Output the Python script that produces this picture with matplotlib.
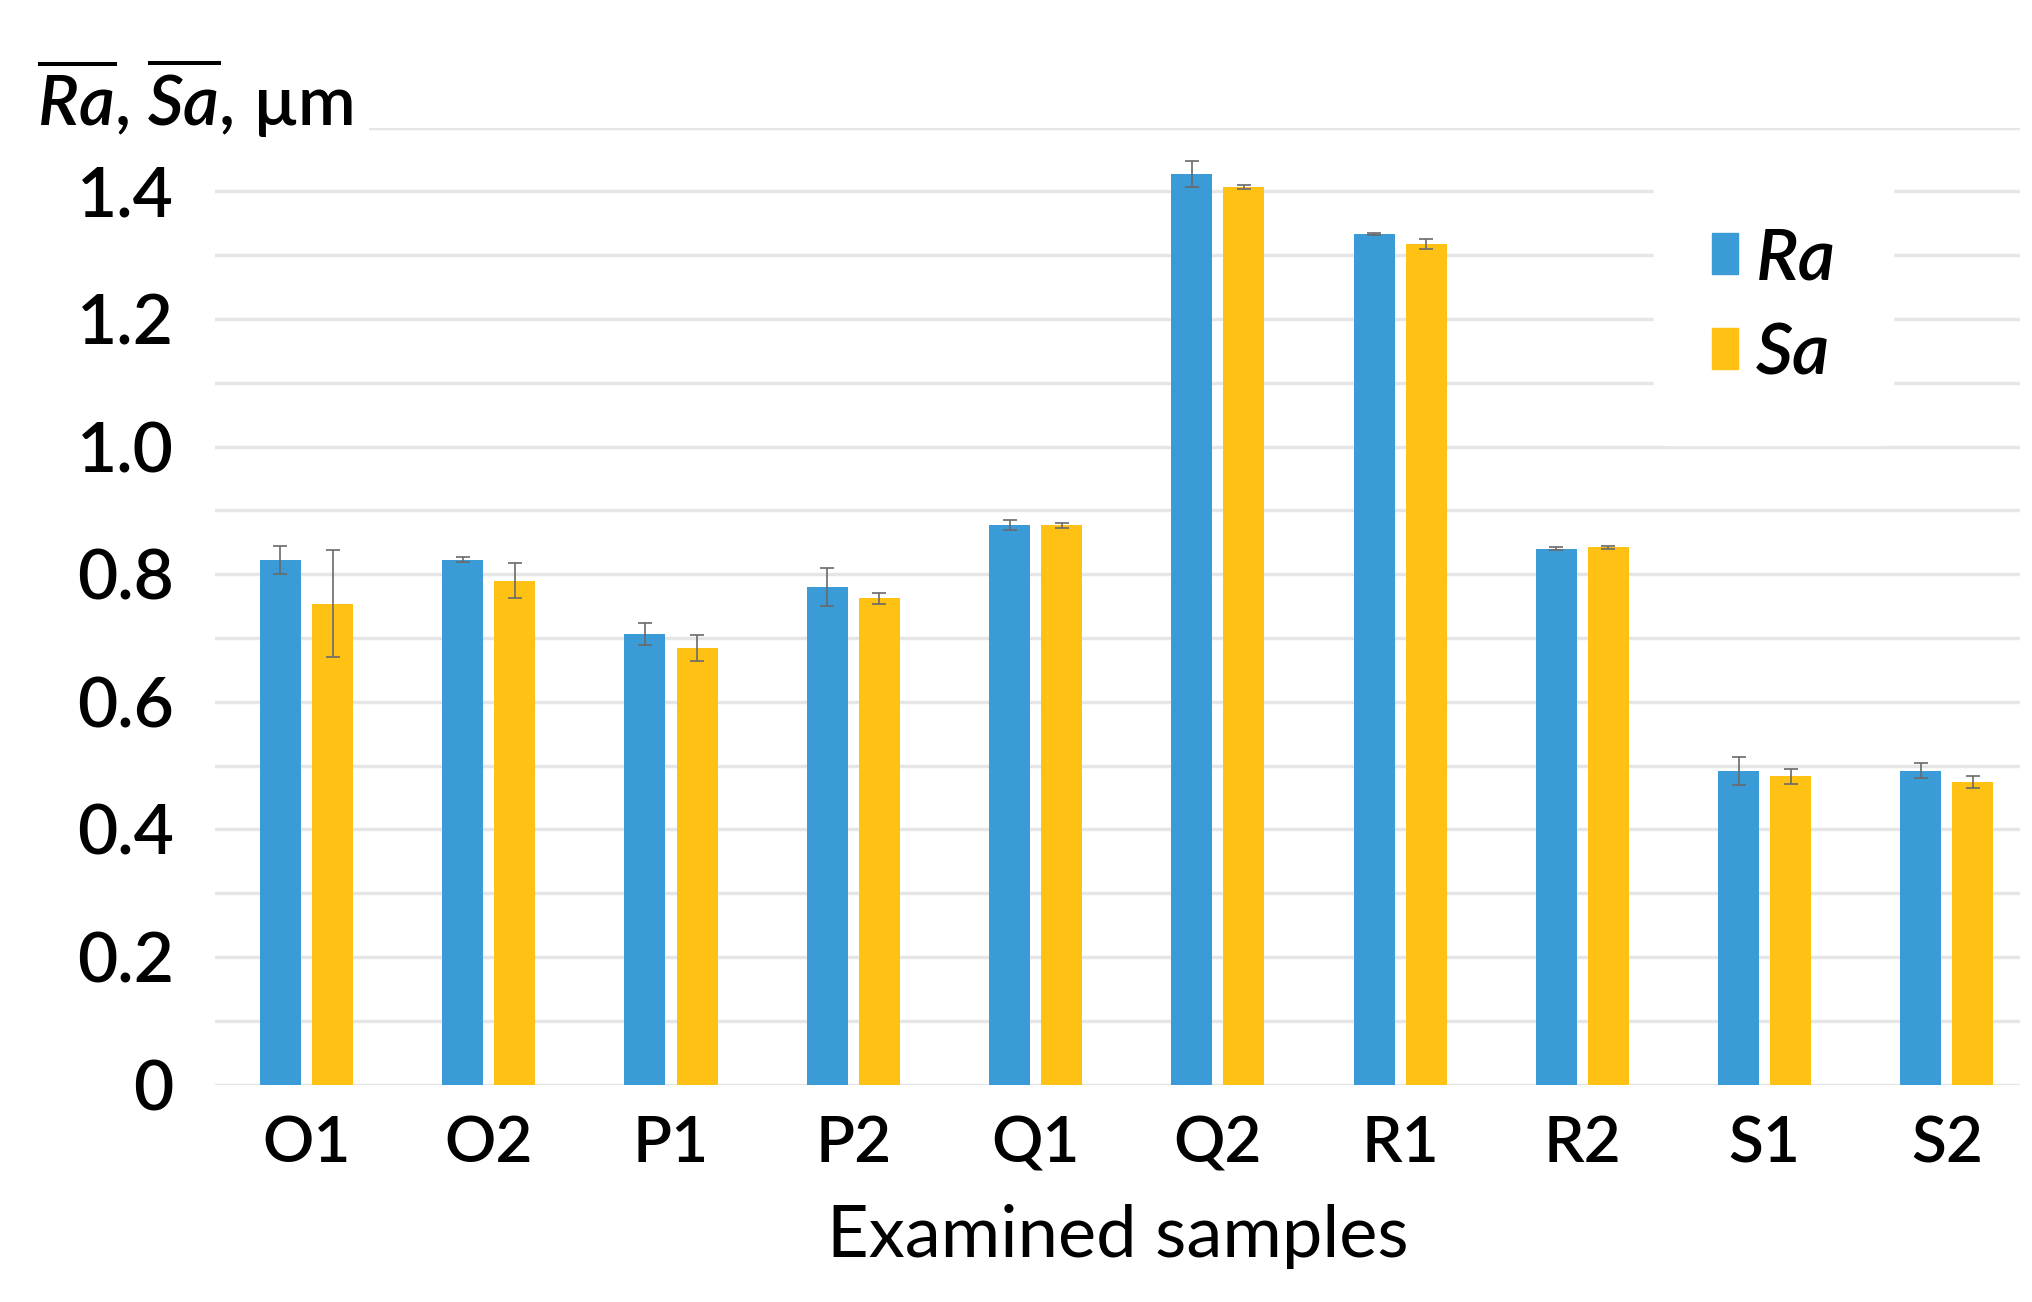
import numpy as np
import matplotlib.pyplot as plt
from matplotlib.patches import Patch

plt.rcParams['font.family'] = ['Lato', 'DejaVu Sans']
plt.rcParams['font.weight'] = 'semibold'
plt.rcParams['mathtext.fontset'] = 'custom'
plt.rcParams['mathtext.it'] = 'Lato:italic:semibold'
plt.rcParams['mathtext.rm'] = 'Lato:semibold'

samples = ['O1', 'O2', 'P1', 'P2', 'Q1', 'Q2', 'R1', 'R2', 'S1', 'S2']
ra_mean = [0.822, 0.823, 0.706, 0.780, 0.877, 1.427, 1.333, 0.840, 0.492, 0.492]
sa_mean = [0.754, 0.790, 0.684, 0.762, 0.877, 1.407, 1.317, 0.842, 0.483, 0.474]
ra_err = [0.022, 0.004, 0.017, 0.030, 0.008, 0.020, 0.002, 0.002, 0.022, 0.012]
sa_err = [0.084, 0.028, 0.020, 0.008, 0.004, 0.003, 0.008, 0.002, 0.012, 0.009]

blue = '#3A9BD6'
yellow = '#FFC114'

fig = plt.figure(figsize=(20.32, 13.02), dpi=100)
ax = fig.add_axes([0.106, 0.167, 0.888, 0.735])

x = np.arange(len(samples))
w = 0.225
off = 0.143
err_kw = dict(ecolor='#6A6A6A', elinewidth=1.2, capsize=5, capthick=1.2)
ax.bar(x - off, ra_mean, w, yerr=ra_err, color=blue, error_kw=err_kw, zorder=3)
ax.bar(x + off, sa_mean, w, yerr=sa_err, color=yellow, error_kw=err_kw, zorder=3)

ax.set_xlim(-0.5, 9.4)
ax.set_ylim(0, 1.5)
ax.set_yticks(np.arange(0, 1.41, 0.2))
ax.set_yticklabels(['0', '0.2', '0.4', '0.6', '0.8', '1.0', '1.2', '1.4'])
ax.set_yticks(np.arange(0, 1.51, 0.1), minor=True)
ax.yaxis.grid(True, which='both', color='#E6E6E6', linewidth=2.5, zorder=0)
ax.set_axisbelow(True)
ax.set_xticks(x)
ax.set_xticklabels(samples)

for s in ax.spines.values():
    s.set_visible(False)
ax.tick_params(axis='both', which='both', length=0)
ax.tick_params(axis='y', labelsize=50, pad=30)
ax.tick_params(axis='x', labelsize=46, pad=22)

ax.set_xlabel('Examined samples', fontsize=52, labelpad=22)

fig.text(0.018, 0.925, r'$\overline{\mathit{Ra}}$, $\overline{\mathit{Sa}}$, µm',
         fontsize=50, ha='left', va='center',
         bbox=dict(facecolor='white', edgecolor='none', pad=12))

handles = [Patch(color=blue, label='Ra'), Patch(color=yellow, label='Sa')]
leg = ax.legend(handles=handles, loc='upper right', bbox_to_anchor=(0.95, 0.995),
                fontsize=52, frameon=True, framealpha=1, edgecolor='white',
                handlelength=0.35, handleheight=0.5, handletextpad=0.25,
                labelspacing=0.4, borderpad=0.8)
for t in leg.get_texts():
    t.set_fontstyle('italic')

fig.savefig('out.png', dpi=100, facecolor='white')
